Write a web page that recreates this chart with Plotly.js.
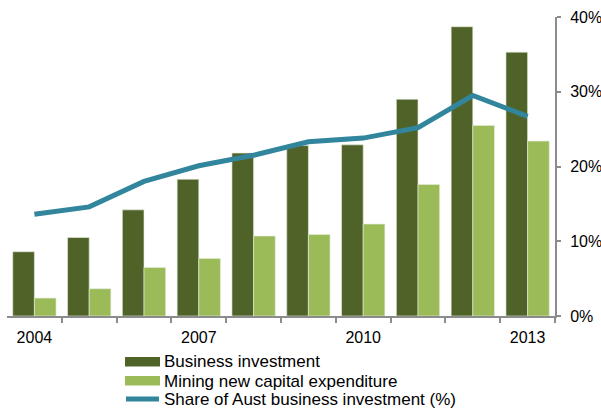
<!DOCTYPE html>
<html>
<head>
<meta charset="utf-8">
<script src="https://cdn.plot.ly/plotly-3.0.1.min.js"></script>
<style>html,body{margin:0;padding:0;background:#fff;}#chart{width:601px;height:410px;}</style>
</head>
<body>
<div id="chart"></div>
<script>
var years = [2004, 2005, 2006, 2007, 2008, 2009, 2010, 2011, 2012, 2013];
var businessInvestment = [8.6, 10.5, 14.2, 18.3, 21.8, 22.8, 22.9, 29.0, 38.7, 35.3];
var miningCapex = [2.4, 3.65, 6.5, 7.7, 10.7, 10.9, 12.3, 17.6, 25.5, 23.4];
var miningShare = [13.6, 14.6, 18.0, 20.1, 21.5, 23.3, 23.8, 25.2, 29.5, 26.7];
var xTickLabels = [2004, 2007, 2010, 2013];
var yTickLabels = [0, 10, 20, 30, 40];
var seriesNames = ['Business investment', 'Mining new capital expenditure', 'Share of Aust business investment (%)'];

var darkGreen = '#4F6228', lightGreen = '#9BBB59', teal = '#31859C';
var FONT = 'Liberation Sans, Arial, sans-serif';

var traces = [
  {type: 'bar', x: years, y: businessInvestment, name: seriesNames[0],
   marker: {color: darkGreen, line: {color: 'rgba(230,235,220,0.8)', width: 0.8}}, showlegend: false},
  {type: 'bar', x: years, y: miningCapex, name: seriesNames[1],
   marker: {color: lightGreen, line: {color: 'rgba(230,235,220,0.8)', width: 0.8}}, showlegend: false},
  {type: 'scatter', mode: 'lines', x: years, y: miningShare, name: seriesNames[2],
   line: {color: teal, width: 5}, showlegend: false}
];

// plot area in pixels
var L = 7, R = 555, T = 17, B = 316;
function px(x){ return (x - L) / (R - L); }
function py(y){ return (B - y) / (B - T); }

var shapes = [
  {type: 'rect', xref: 'paper', yref: 'paper', x0: px(125), x1: px(160), y0: py(366.5), y1: py(357),
   fillcolor: darkGreen, line: {width: 0}},
  {type: 'rect', xref: 'paper', yref: 'paper', x0: px(125), x1: px(160), y0: py(385.5), y1: py(376),
   fillcolor: lightGreen, line: {width: 0}},
  {type: 'line', xref: 'paper', yref: 'paper', x0: px(126), x1: px(159), y0: py(399), y1: py(399),
   line: {color: teal, width: 5}}
];
var legendY = [362, 381, 399.5];
var annotations = seriesNames.map(function(n, i){
  return {xref: 'paper', yref: 'paper', x: px(162), y: py(legendY[i]), xanchor: 'left', yanchor: 'middle',
          text: n, showarrow: false, font: {family: FONT, size: 17, color: '#000'}};
});

var layout = {
  width: 601, height: 410,
  margin: {l: L, r: 601 - R, t: T, b: 410 - B},
  paper_bgcolor: '#fff', plot_bgcolor: '#fff',
  barmode: 'group', bargap: 0.21, bargroupgap: 0,
  showlegend: false,
  font: {family: FONT, size: 16, color: '#000'},
  xaxis: {
    type: 'linear', range: [2003.5, 2013.5], tickvals: xTickLabels, ticktext: xTickLabels.map(String),
    ticks: '', showgrid: false, zeroline: false, showline: true, linecolor: '#8c8c8c', linewidth: 2,
    ticklabelstandoff: 6,
    minor: {tickmode: 'array', tickvals: [2004.5, 2005.5, 2006.5, 2007.5, 2008.5, 2009.5, 2010.5, 2011.5, 2012.5, 2013.5],
            ticks: 'outside', ticklen: 5, tickwidth: 2, tickcolor: '#8c8c8c', showgrid: false},
    tickfont: {family: FONT, size: 16, color: '#000'}, fixedrange: true
  },
  yaxis: {
    side: 'right', range: [0, 40], tickvals: yTickLabels, ticktext: yTickLabels.map(function(v){return v + '%';}),
    ticks: 'outside', ticklen: 4, tickwidth: 2, tickcolor: '#8c8c8c',
    showline: true, linecolor: '#8c8c8c', linewidth: 2, showgrid: false, zeroline: false,
    ticklabelstandoff: 6,
    tickfont: {family: FONT, size: 16, color: '#000'}, fixedrange: true
  },
  shapes: shapes,
  annotations: annotations
};

Plotly.newPlot('chart', traces, layout, {displayModeBar: false, staticPlot: true});
</script>
</body>
</html>
